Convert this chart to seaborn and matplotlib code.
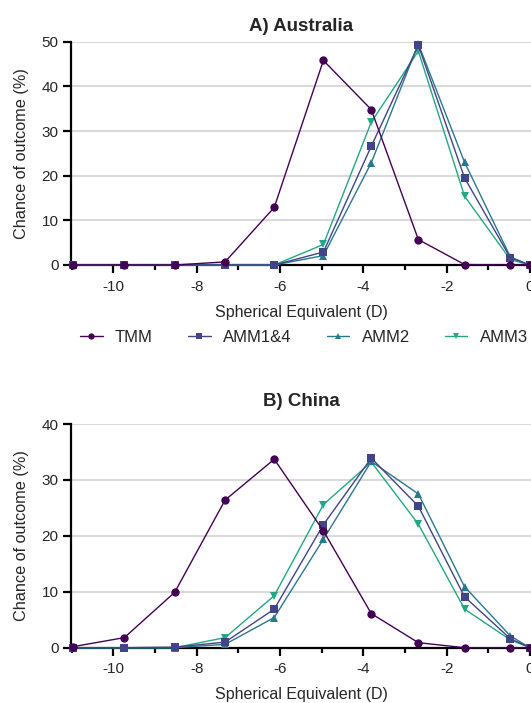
import pandas as pd
import matplotlib.pyplot as plt
import seaborn as sns
from matplotlib.lines import Line2D

# 数据
se_bins = [-10.96, -9.74, -8.53, -7.32, -6.14, -4.96, -3.81, -2.68, -1.57, -0.47, 0.0]
models = ['TMM', 'AMM1&4', 'AMM2', 'AMM3']

aus_tmm = [0, 0, 0, 0.7, 12.9, 45.8, 34.8, 5.7, 0.1, 0, 0]
aus_amm14 = [0, 0, 0, 0, 0, 2.9, 26.6, 49.2, 19.5, 1.6, 0]
aus_amm2 = [0, 0, 0, 0, 0, 2.1, 22.9, 49.5, 23.0, 1.8, 0]
aus_amm3 = [0, 0, 0, 0, 0, 4.6, 32.0, 47.9, 15.4, 1.2, 0]

chn_tmm = [0.2, 1.8, 9.9, 26.4, 33.7, 20.9, 6.1, 0.9, 0, 0, 0]
chn_amm14 = [0, 0, 0.1, 1.0, 6.9, 22.0, 33.9, 25.3, 9.1, 1.6, 0]
chn_amm2 = [0, 0, 0, 0.6, 5.4, 19.4, 33.3, 27.5, 10.9, 2.1, 0]
chn_amm3 = [0, 0, 0, 1.8, 9.3, 25.6, 33.2, 22.1, 6.9, 1.4, 0]

colors = {'TMM': '#440154', 'AMM1&4': '#414487', 'AMM2': '#2a788e', 'AMM3': '#22a884'}
markers = {'TMM': 'o', 'AMM1&4': 's', 'AMM2': '^', 'AMM3': 'v'}


def make_df(series):
    rows = []
    for m, vals in zip(models, series):
        for x, y in zip(se_bins, vals):
            rows.append({'SE': x, 'chance': y, 'model': m})
    return pd.DataFrame(rows)


aus = make_df([aus_tmm, aus_amm14, aus_amm2, aus_amm3])
chn = make_df([chn_tmm, chn_amm14, chn_amm2, chn_amm3])

sns.set_style('white')
plt.rcParams['font.family'] = ['Liberation Sans', 'DejaVu Sans']
plt.rcParams['axes.unicode_minus'] = False

W, H = 531, 703
fig = plt.figure(figsize=(W / 100, H / 100), dpi=100)
ax1 = fig.add_axes([71 / W, 1 - 265 / H, 1 - 71 / W, (265 - 41.7) / H])
ax2 = fig.add_axes([71 / W, 1 - 647.7 / H, 1 - 71 / W, (647.7 - 424) / H])


def draw(ax, df, title, ymax, tpad):
    # TMM最后画，放在最上层
    sns.lineplot(data=df, x='SE', y='chance', hue='model', style='model',
                 hue_order=models[::-1], style_order=models[::-1],
                 palette=colors, markers=markers, dashes=False, ax=ax,
                 linewidth=1.0, markersize=6, markeredgewidth=0,
                 legend=False, clip_on=False, zorder=3)
    ax.set_xlim(-11.02, 0.025)
    ax.set_ylim(0, ymax)
    ax.set_yticks(range(0, ymax + 1, 10))
    ax.set_xticks([-10, -8, -6, -4, -2, 0])
    ax.set_xticks([-11, -9, -7, -5, -3, -1], minor=True)
    ax.grid(axis='y', color='#d9d9d9', linewidth=1.5, zorder=0)
    ax.set_axisbelow(True)
    for s in ['top', 'right']:
        ax.spines[s].set_visible(False)
    for s in ['left', 'bottom']:
        ax.spines[s].set_color('black')
        ax.spines[s].set_linewidth(1.6)
    ax.tick_params(axis='both', which='major', direction='out', length=6, width=1.6,
                   color='black', labelsize=11, bottom=True, left=True, pad=3)
    ax.tick_params(axis='x', which='major', pad=4.5)
    ax.tick_params(axis='x', which='minor', direction='out', length=3.5, width=1.6,
                   color='black', bottom=True)
    ax.set_xlabel('Spherical Equivalent (D)', fontsize=11.5, labelpad=8)
    ax.set_ylabel('Chance of outcome (%)', fontsize=11.7, labelpad=9)
    ax.set_title(title, fontsize=13.5, fontweight='bold', pad=tpad)


draw(ax1, aus, 'A) Australia', 50, 8)
draw(ax2, chn, 'B) China', 40, 13)

handles = [Line2D([0], [0], color=colors[m], marker=markers[m], markersize=4.5,
                  markeredgewidth=0, linewidth=1.0) for m in models]
fig.legend(handles, models, loc='center', bbox_to_anchor=(304 / W, 1 - 337.5 / H),
           ncol=4, frameon=False, fontsize=12, handlelength=1.35,
           columnspacing=2.1, handletextpad=0.75)

plt.savefig('out.png', dpi=100)
